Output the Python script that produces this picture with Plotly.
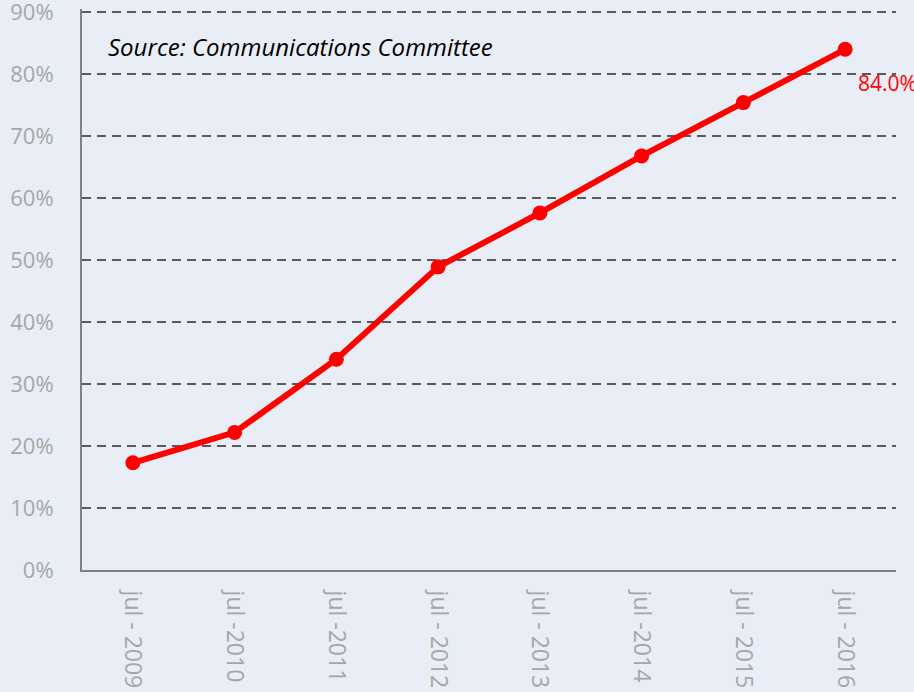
import plotly.graph_objects as go

categories = ["jul - 2009", "jul -2010", "jul -2011", "jul - 2012", "jul - 2013", "jul -2014", "jul - 2015", "jul - 2016"]
values = [17.3, 22.2, 34.0, 48.9, 57.6, 66.8, 75.4, 84.0]
y_ticks = [0, 10, 20, 30, 40, 50, 60, 70, 80, 90]
y_tick_labels = [f"{v}%" for v in y_ticks]
last_label = "84.0%"
source_text = "Source: Communications Committee"

bg = "#E9EEF6"
fig = go.Figure()
fig.add_trace(go.Scatter(
    x=categories, y=values, mode="lines+markers",
    line=dict(color="#FF0000", width=6),
    marker=dict(color="#FF0000", size=15),
    showlegend=False, hoverinfo="skip", cliponaxis=False,
))
fig.add_annotation(x=categories[-1], y=values[-1], text=last_label, showarrow=False,
                   xanchor="left", yanchor="middle", xshift=11, yshift=-34,
                   font=dict(color="#FF0000", size=21, family="Open Sans"))
fig.add_annotation(xref="paper", yref="paper", x=0.03, y=0.933, text=f"<i>{source_text}</i>",
                   showarrow=False, xanchor="left", yanchor="middle",
                   font=dict(color="#000000", size=24, family="Open Sans"))
fig.update_layout(
    width=914, height=692,
    margin=dict(l=82, r=18, t=9, b=122, autoexpand=False),
    paper_bgcolor=bg, plot_bgcolor=bg,
    font=dict(family="Open Sans", color="#A6A6A6"),
    xaxis=dict(type="category", range=[-0.5, 7.5], showgrid=False, showline=True,
               linecolor="#808080", linewidth=2, tickangle=90, ticks="",
               tickfont=dict(size=23, color="#A6A6A6"), ticklabelstandoff=14,
               ticklabeloverflow="allow", zeroline=False, automargin=False),
    yaxis=dict(range=[0, 90.5], tickvals=y_ticks, ticktext=y_tick_labels,
               showgrid=True, gridcolor="#5A5A5A", griddash="9px,6px", gridwidth=2,
               showline=True, linecolor="#808080", linewidth=2, ticks="",
               tickfont=dict(size=22, color="#A6A6A6"), ticklabelstandoff=22,
               ticklabeloverflow="allow", zeroline=False, automargin=False),
)
fig.write_html("out.html", config={"displayModeBar": False},
               post_script="document.body.style.margin='0';document.body.style.overflow='hidden';")
